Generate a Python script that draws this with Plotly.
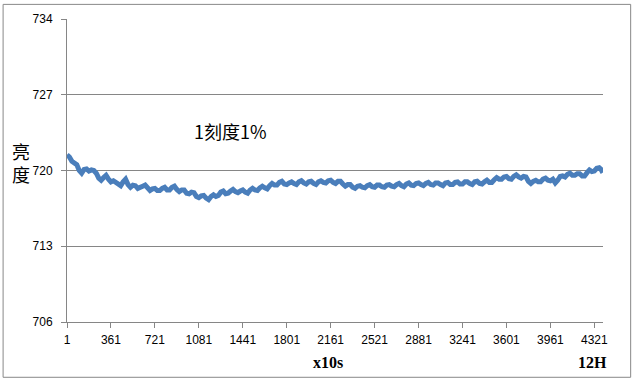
import plotly.graph_objects as go

# sample index (x10s), step 20 samples
x_idx = list(range(1, 4362, 20)) + [4376, 4391]
brightness = [
    721.45, 721.25, 720.85, 720.65, 720.55, 720.0, 719.75, 720.1, 720.15, 719.95,
    720.05, 720.0, 719.75, 719.3, 719.1, 719.35, 719.55, 719.2, 718.95, 719.05,
    718.9, 718.7, 718.6, 718.95, 719.2, 718.7, 718.45, 718.65, 718.6, 718.35,
    718.4, 718.55, 718.65, 718.45, 718.15, 718.3, 718.35, 718.15, 718.15, 718.35,
    718.45, 718.2, 718.2, 718.45, 718.55, 718.25, 718.05, 718.2, 718.2, 717.9,
    717.85, 718.0, 717.95, 717.6, 717.5, 717.65, 717.7, 717.45, 717.3, 717.6,
    717.75, 717.6, 717.7, 718.0, 718.1, 717.85, 717.9, 718.1, 718.25, 718.05,
    717.95, 718.1, 718.2, 718.0, 717.9, 718.2, 718.35, 718.2, 718.15, 718.4,
    718.55, 718.4, 718.3, 718.6, 718.8, 718.65, 718.65, 718.9, 719.0, 718.75,
    718.7, 718.85, 718.95, 718.8, 718.7, 718.95, 719.05, 718.85, 718.75, 718.95,
    719.0, 718.8, 718.7, 718.95, 719.05, 718.9, 718.85, 719.05, 719.1, 718.9,
    718.8, 719.0, 719.0, 718.75, 718.55, 718.7, 718.7, 718.45, 718.35, 718.55,
    718.6, 718.45, 718.4, 718.6, 718.7, 718.5, 718.45, 718.65, 718.65, 718.5,
    718.45, 718.65, 718.7, 718.55, 718.5, 718.7, 718.8, 718.6, 718.5, 718.75,
    718.85, 718.65, 718.6, 718.8, 718.85, 718.7, 718.6, 718.8, 718.9, 718.7,
    718.65, 718.85, 718.85, 718.7, 718.6, 718.85, 718.9, 718.7, 718.7, 718.9,
    718.95, 718.75, 718.75, 718.95, 718.95, 718.8, 718.7, 718.95, 719.0, 718.8,
    718.75, 718.95, 719.1, 718.9, 718.9, 719.15, 719.35, 719.2, 719.2, 719.4,
    719.45, 719.25, 719.2, 719.45, 719.6, 719.4, 719.3, 719.45, 719.4, 719.0,
    718.8, 719.0, 719.1, 718.95, 718.95, 719.2, 719.3, 719.1, 719.05, 719.2,
    718.85, 719.1, 719.45, 719.5, 719.4, 719.65, 719.75, 719.55, 719.55, 719.7,
    719.7, 719.5, 719.5, 719.8, 720.05, 719.9, 719.95, 720.2, 720.25, 720.1,
    719.8,
]
x_ticks = [1, 361, 721, 1081, 1441, 1801, 2161, 2521, 2881, 3241, 3601, 3961, 4321]
y_ticks = [706, 713, 720, 727, 734]

L, R, T, B = 66.5, 603.3, 17, 321.7
W, H = 634, 382
pw, ph = R - L, B - T

def px(xp):
    return (xp - L) / pw

def py(yp):
    return (B - yp) / ph

fig = go.Figure()
fig.add_trace(go.Scatter(
    x=x_idx, y=brightness, mode="lines",
    line=dict(color="#4a7ebb", width=5),
    showlegend=False, hoverinfo="skip",
))

axis_col = "#868686"
tick_font = dict(family="Liberation Sans, Arial, sans-serif", size=12, color="#000000")

fig.update_xaxes(
    range=[1, 4392], tickmode="array", tickvals=x_ticks,
    ticktext=[str(v) for v in x_ticks],
    showgrid=False, zeroline=False,
    showline=True, linecolor=axis_col, linewidth=1,
    ticks="outside", ticklen=5, tickcolor=axis_col, tickwidth=1,
    tickfont=tick_font, ticklabelstandoff=2,
)
fig.update_yaxes(
    range=[706, 734], tickmode="array", tickvals=y_ticks,
    ticktext=[str(v) for v in y_ticks],
    showgrid=True, gridcolor=axis_col, gridwidth=1, zeroline=False,
    showline=True, linecolor=axis_col, linewidth=1,
    ticks="outside", ticklen=5, tickcolor=axis_col, tickwidth=1,
    tickfont=tick_font, ticklabelstandoff=6,
)

fig.add_shape(type="rect", xref="paper", yref="paper",
              x0=px(2.5), x1=px(631), y0=py(377.3), y1=py(2.3),
              line=dict(color="#888888", width=1), layer="below")

cjk = "Noto Sans CJK SC, sans-serif"
serif = "Liberation Serif, DejaVu Serif, serif"

def note(text, x, y, font):
    fig.add_annotation(text=text, xref="paper", yref="paper",
                       x=px(x), y=py(y), xanchor="center", yanchor="middle",
                       showarrow=False, font=font)

note("1刻度1%", 230, 130, dict(family=cjk, size=18, color="#000000"))
note("亮<br>度", 20, 161, dict(family=cjk, size=18, color="#000000"))
note("<b>x10s</b>", 327.5, 362.7, dict(family=serif, size=16, color="#000000"))
note("<b>12H</b>", 593, 362.7, dict(family=serif, size=16, color="#000000"))

fig.update_layout(
    width=W, height=H,
    margin=dict(l=L, r=W - R, t=T, b=H - B, pad=0),
    plot_bgcolor="#ffffff", paper_bgcolor="#ffffff",
)
fig.write_html("out.html")
